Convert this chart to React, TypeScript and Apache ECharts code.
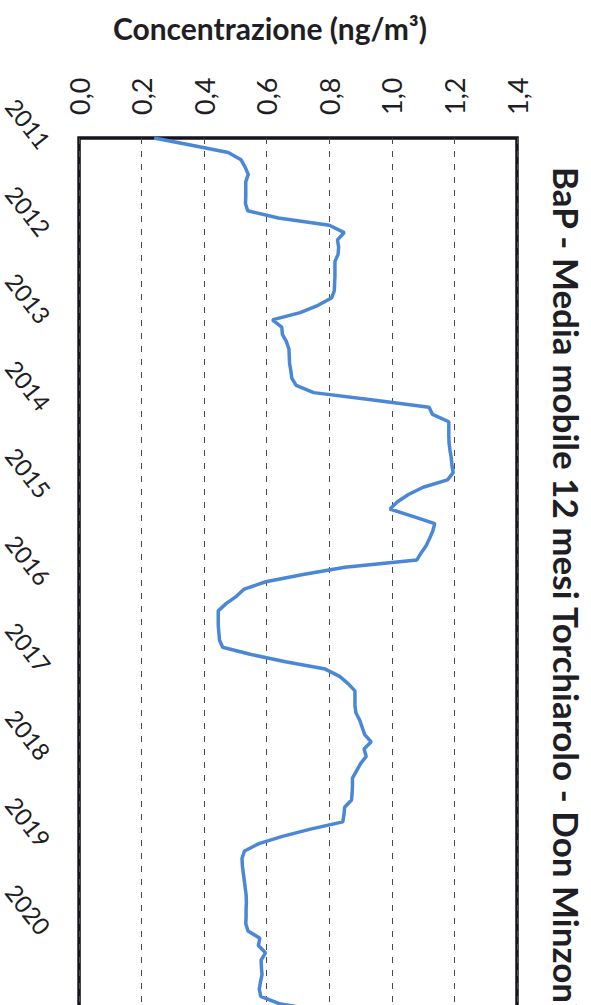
import React, { useEffect, useRef } from "react";
import * as echarts from "echarts";

const years = ["2011", "2012", "2013", "2014", "2015", "2016", "2017", "2018", "2019", "2020", "2021"];
const monthNums = ["01", "02", "03", "04", "05", "06", "07", "08", "09", "10", "11", "12"];
const labeledYears = ["2011", "2012", "2013", "2014", "2015", "2016", "2017", "2018", "2019", "2020"];

const valueTicks = [0, 0.2, 0.4, 0.6, 0.8, 1.0, 1.2, 1.4];

// 12-month moving average of BaP (ng/m3), monthly, Jan 2011 - Jan 2021
const bapValues = [
  0.24, 0.36, 0.477, 0.518, 0.531, 0.541, 0.533, 0.533, 0.533, 0.532, 0.539, 0.637,
  0.8, 0.848, 0.826, 0.83, 0.828, 0.818, 0.818, 0.818, 0.817, 0.816, 0.807, 0.764,
  0.707, 0.618, 0.648, 0.65, 0.663, 0.671, 0.672, 0.673, 0.677, 0.68, 0.694, 0.75,
  0.94, 1.119, 1.13, 1.182, 1.182, 1.182, 1.183, 1.186, 1.19, 1.192, 1.196, 1.178,
  1.1, 1.053, 1.018, 0.994, 1.067, 1.137, 1.131, 1.121, 1.11, 1.094, 1.08, 0.85,
  0.716, 0.597, 0.528, 0.503, 0.47, 0.445, 0.445, 0.445, 0.447, 0.449, 0.459, 0.55,
  0.66, 0.787, 0.833, 0.86, 0.882, 0.882, 0.882, 0.885, 0.897, 0.905, 0.913, 0.934,
  0.911, 0.918, 0.9, 0.887, 0.874, 0.874, 0.873, 0.871, 0.849, 0.847, 0.843, 0.74,
  0.65, 0.575, 0.529, 0.521, 0.522, 0.525, 0.528, 0.531, 0.534, 0.535, 0.534, 0.534,
  0.533, 0.54, 0.578, 0.573, 0.596, 0.582, 0.583, 0.585, 0.58, 0.576, 0.581, 0.64,
  0.78,
];

const months = years.flatMap((y) => monthNums.map((m) => `${y}-${m}`)).slice(0, 121);

const titleText = "BaP - Media mobile 12 mesi Torchiarolo - Don Minzoni";
const axisTitle = "Concentrazione (ng/m³)";

const FONT = "Lato, 'Open Sans', sans-serif";

export default function App() {
  const ref = useRef<HTMLDivElement>(null);

  useEffect(() => {
    if (!ref.current) return;
    const chart = echarts.init(ref.current, undefined, { renderer: "svg" });
    chart.setOption({
      animation: false,
      backgroundColor: "#ffffff",
      grid: {
        left: 74,
        right: 74,
        top: 138,
        bottom: 49,
        show: true,
        borderColor: "#14141c",
        borderWidth: 3.5,
        backgroundColor: "transparent",
      },
      xAxis: {
        type: "value",
        position: "top",
        min: valueTicks[0],
        max: valueTicks[valueTicks.length - 1],
        interval: 0.2,
        axisLine: { show: false },
        axisTick: { show: false },
        splitLine: {
          show: true,
          lineStyle: { color: "#4a4a4a", width: 1, type: [6, 7] },
        },
        axisLabel: {
          rotate: -90,
          margin: 23,
          fontSize: 27,
          fontFamily: FONT,
          color: "#1e1e24",
          formatter: (v: number) => v.toFixed(1).replace(".", ","),
        },
      },
      yAxis: {
        type: "category",
        inverse: true,
        boundaryGap: false,
        data: months,
        axisLine: { show: false },
        axisTick: { show: false },
        splitLine: { show: false },
        axisLabel: {
          rotate: -52,
          margin: 24,
          fontSize: 24,
          fontFamily: FONT,
          color: "#1e1e24",
          verticalAlign: "top",
          interval: (index: number, value: string) =>
            index % 12 === 0 && labeledYears.includes(value.slice(0, 4)),
          formatter: (value: string) => value.slice(0, 4),
        },
      },
      series: [
        {
          type: "line",
          data: bapValues.map((v, i) => [v, months[i]]),
          showSymbol: false,
          symbol: "none",
          lineStyle: { color: "#4a87d6", width: 3.5 },
          z: 3,
        },
      ],
      graphic: [
        {
          type: "text",
          x: 270,
          y: 28,
          style: {
            text: axisTitle,
            font: `bold 30px ${FONT}`,
            fill: "#1e1e24",
            textAlign: "center",
            textVerticalAlign: "middle",
          },
        },
        {
          type: "text",
          x: 567,
          y: 167,
          rotation: -Math.PI / 2,
          style: {
            text: titleText,
            font: `bold 35px ${FONT}`,
            fill: "#1e1e24",
            textAlign: "left",
            textVerticalAlign: "middle",
          },
        },
      ],
    });
    return () => chart.dispose();
  }, []);

  return (
    <div
      style={{
        position: "fixed",
        left: 0,
        top: 0,
        width: 591,
        height: 1005,
        overflow: "hidden",
        background: "#fff",
      }}
    >
      <div ref={ref} style={{ width: 591, height: 1060 }} />
    </div>
  );
}
